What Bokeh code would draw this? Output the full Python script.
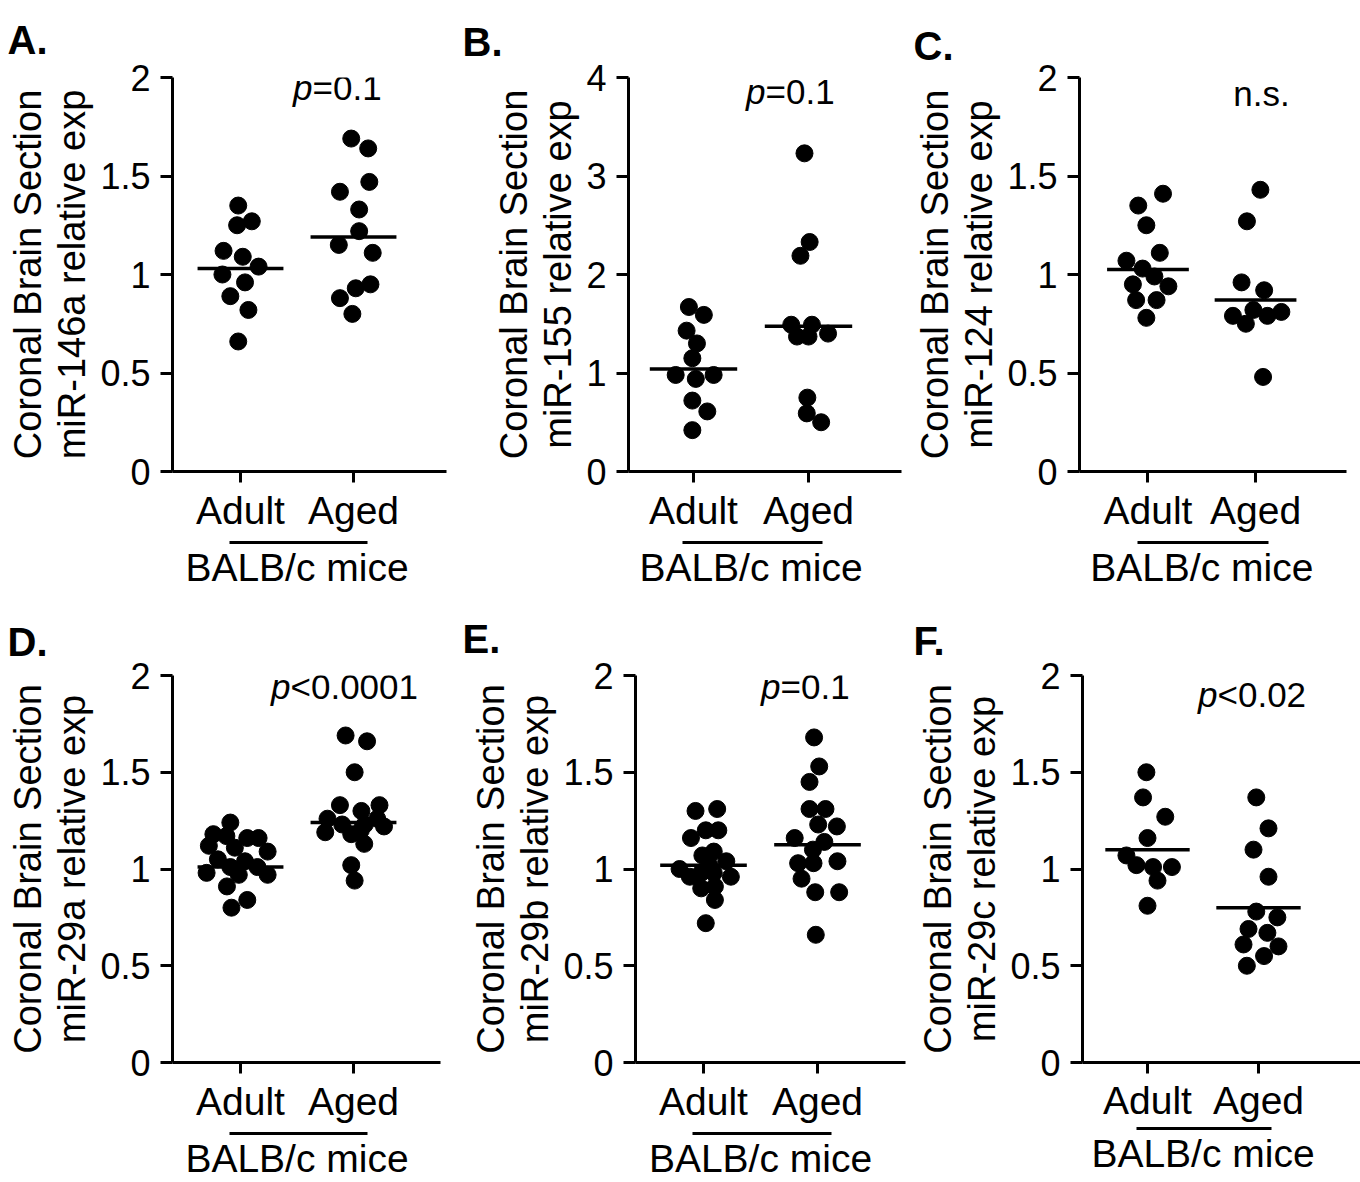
import numpy as np
from bokeh.plotting import figure
from bokeh.models import LinearAxis, FixedTicker, CustomJSTickFormatter, Label, Range1d, Title
from bokeh.layouts import column, row
from bokeh.embed import file_html
from bokeh.resources import INLINE

FONT = "Liberation Sans"

groups = ["Adult", "Aged"]
mouse_label = "BALB/c mice"
ylabel_top = "Coronal Brain Section"

# ---------------- data ----------------
# Panel A: miR-146a
A_adult = [1.35, 1.25, 1.27, 1.12, 1.09, 1.04, 1.00, 0.96, 0.89, 0.82, 0.66]
A_adult_dx = [-0.02, -0.03, 0.10, -0.15, 0.02, 0.16, -0.16, 0.04, -0.09, 0.07, -0.02]
A_aged = [1.69, 1.64, 1.47, 1.42, 1.33, 1.22, 1.15, 1.11, 0.95, 0.93, 0.88, 0.80]
A_aged_dx = [-0.02, 0.13, 0.14, -0.12, 0.05, 0.05, -0.13, 0.17, 0.15, 0.02, -0.12, -0.01]
A_means = [1.03, 1.19]

# Panel B: miR-155
B_adult = [1.67, 1.59, 1.43, 1.30, 1.15, 0.98, 0.94, 0.98, 0.72, 0.61, 0.42]
B_adult_dx = [-0.04, 0.09, -0.06, 0.03, -0.01, -0.155, 0.02, 0.175, -0.01, 0.12, -0.01]
B_aged = [3.23, 2.33, 2.19, 1.49, 1.49, 1.37, 1.37, 1.40, 0.75, 0.59, 0.50]
B_aged_dx = [-0.035, 0.01, -0.07, -0.15, 0.03, -0.10, 0.0, 0.17, -0.01, -0.015, 0.11]
B_means = [1.04, 1.475]

# Panel C: miR-124
C_adult = [1.35, 1.41, 1.25, 1.11, 1.07, 1.03, 0.99, 0.95, 0.94, 0.87, 0.87, 0.78]
C_adult_dx = [-0.09, 0.14, -0.015, 0.11, -0.20, -0.05, 0.06, -0.14, 0.19, -0.11, 0.08, -0.015]
C_aged = [1.43, 1.27, 0.96, 0.92, 0.79, 0.82, 0.79, 0.81, 0.75, 0.48]
C_aged_dx = [0.045, -0.08, -0.13, 0.08, -0.21, -0.02, 0.11, 0.24, -0.09, 0.07]
C_means = [1.025, 0.87]

# Panel D: miR-29a
D_adult = [1.24, 1.18, 1.17, 1.16, 1.16, 1.12, 1.11, 1.09, 1.05, 1.04, 0.98, 1.01,
           0.97, 1.01, 0.97, 0.91, 0.84, 0.80]
D_adult_dx = [-0.09, -0.24, -0.125, 0.06, 0.16, -0.28, -0.05, 0.24, -0.20, 0.04, -0.30, -0.09,
              -0.015, 0.15, 0.24, -0.12, 0.06, -0.08]
D_aged = [1.69, 1.66, 1.50, 1.33, 1.33, 1.30, 1.26, 1.26, 1.23, 1.19, 1.22, 1.23,
          1.18, 1.20, 1.13, 1.02, 0.94]
D_aged_dx = [-0.07, 0.12, 0.01, -0.12, 0.23, 0.07, -0.23, 0.21, -0.10, -0.25, 0.27, 0.10,
             -0.02, 0.065, 0.095, -0.02, 0.01]
D_means = [1.01, 1.24]

# Panel E: miR-29b
E_adult = [1.30, 1.31, 1.20, 1.20, 1.16, 1.07, 1.09, 1.04, 1.00, 0.96, 0.98, 0.98,
           0.96, 0.90, 0.91, 0.84, 0.72, 1.02]
E_adult_dx = [-0.07, 0.12, 0.02, 0.13, -0.11, -0.01, 0.09, 0.20, -0.21, -0.12, -0.02, 0.09,
              0.24, -0.02, 0.10, 0.10, 0.02, 0.05]
E_aged = [1.68, 1.53, 1.45, 1.31, 1.31, 1.23, 1.22, 1.16, 1.14, 1.10, 1.03, 1.03,
          1.04, 0.95, 0.88, 0.88, 0.66]
E_aged_dx = [-0.03, 0.015, -0.07, -0.07, 0.07, 0.006, 0.17, -0.20, 0.06, -0.04, -0.17, -0.035,
             0.175, -0.14, -0.02, 0.19, -0.015]
E_means = [1.02, 1.125]

# Panel F: miR-29c
F_adult = [1.50, 1.37, 1.27, 1.16, 1.07, 1.02, 1.01, 1.01, 0.94, 0.81]
F_adult_dx = [-0.01, -0.04, 0.16, 0.0, -0.19, -0.10, 0.05, 0.22, 0.09, 0.0]
F_aged = [1.37, 1.21, 1.10, 0.96, 0.78, 0.75, 0.69, 0.67, 0.61, 0.60, 0.55, 0.50]
F_aged_dx = [-0.02, 0.09, -0.045, 0.09, -0.02, 0.17, -0.09, 0.08, -0.135, 0.18, 0.05, -0.105]
F_means = [1.10, 0.80]

ticks_2 = [0, 0.5, 1, 1.5, 2]
ticks_4 = [0, 1, 2, 3, 4]

# layout geometry in page pixels: figure origin/size, frame box, group tick positions,
# text anchors, and gaps below the x axis (label standoff, spacer, caption standoff)
panels = [
    dict(letter="A.", ylabel="miR-146a relative exp", ymax=2, yticks=ticks_2,
         vals=(A_adult, A_aged), dx=(A_adult_dx, A_aged_dx), means=A_means, stat=("p", "=0.1"),
         geo=dict(ox=0, oy=0, w=458, h=600, L=172, R=446, T=77, B=473, t1=240, t2=353,
                  stat=(312, 103), letter=12, gaps=(6, 8, 3))),
    dict(letter="B.", ylabel="miR-155 relative exp", ymax=4, yticks=ticks_4,
         vals=(B_adult, B_aged), dx=(B_adult_dx, B_aged_dx), means=B_means, stat=("p", "=0.1"),
         geo=dict(ox=458, oy=0, w=452, h=600, L=628, R=901, T=73, B=477, t1=693, t2=808,
                  stat=(765, 103), letter=467, gaps=(6, 8, 3))),
    dict(letter="C.", ylabel="miR-124 relative exp", ymax=2, yticks=ticks_2,
         vals=(C_adult, C_aged), dx=(C_adult_dx, C_aged_dx), means=C_means, stat=("", "n.s."),
         geo=dict(ox=910, oy=0, w=450, h=600, L=1073, R=1346, T=65, B=471, t1=1143, t2=1253,
                  stat=(1259, 97), letter=912, gaps=(6, 8, 3))),
    dict(letter="D.", ylabel="miR-29a relative exp", ymax=2, yticks=ticks_2,
         vals=(D_adult, D_aged), dx=(D_adult_dx, D_aged_dx), means=D_means, stat=("p", "<0.0001"),
         geo=dict(ox=0, oy=600, w=458, h=582, L=172, R=440, T=670, B=1066, t1=240, t2=353,
                  stat=(290, 697), letter=12, gaps=(6, 8, 3))),
    dict(letter="E.", ylabel="miR-29b relative exp", ymax=2, yticks=ticks_2,
         vals=(E_adult, E_aged), dx=(E_adult_dx, E_aged_dx), means=E_means, stat=("p", "=0.1"),
         geo=dict(ox=458, oy=600, w=452, h=582, L=635, R=905, T=675, B=1066, t1=703, t2=817,
                  stat=(780, 702), letter=467, gaps=(6, 8, 3))),
    dict(letter="F.", ylabel="miR-29c relative exp", ymax=2, yticks=ticks_2,
         vals=(F_adult, F_aged), dx=(F_adult_dx, F_aged_dx), means=F_means, stat=("p", "<0.02"),
         geo=dict(ox=910, oy=600, w=450, h=582, L=1082, R=1360, T=672, B=1068, t1=1147, t2=1258,
                  stat=(1217, 707), letter=918, gaps=(5, 4, 3))),
]

MEAN_HALF = 0.38
LABEL_BASELINE_FIX = 16   # Label anchor sits this far above the drawn baseline
TITLE_EXTRA = 48          # title panel height beyond its standoff


def style_axis(ax):
    ax.axis_line_width = 3
    ax.axis_line_color = "black"
    ax.major_tick_line_width = 3
    ax.major_tick_line_color = "black"
    ax.major_tick_in = 0
    ax.minor_tick_in = 0
    ax.minor_tick_out = 0
    ax.major_label_text_font = FONT
    ax.major_label_text_color = "black"
    ax.axis_label_text_font = FONT
    ax.axis_label_text_font_style = "normal"
    ax.axis_label_text_color = "black"


def make_panel(pn):
    g = pn["geo"]
    L, R, T, B = g["L"], g["R"], g["T"], g["B"]
    sp = g["t2"] - g["t1"]
    x0 = 1 - (g["t1"] - L) / sp
    x1 = 2 + (R - g["t2"]) / sp
    y0, y1 = 0, pn["ymax"]

    def X(px):
        return x0 + (px - L) * (x1 - x0) / (R - L)

    def Y(py):
        return y0 + (B - py) * (y1 - y0) / (B - T)

    top_border = T - g["oy"]
    p = figure(width=g["w"], height=g["h"],
               x_range=Range1d(x0, x1), y_range=Range1d(y0, y1),
               output_backend="svg", toolbar_location=None,
               x_axis_location=None, y_axis_location=None,
               min_border_left=L - g["ox"], min_border_right=g["ox"] + g["w"] - R,
               min_border_top=top_border, min_border_bottom=g["oy"] + g["h"] - B)
    p.outline_line_color = None
    p.background_fill_color = "white"
    p.border_fill_color = "white"
    for gr in p.grid:
        gr.visible = False

    # panel letter as a left-aligned title, as high as the top border allows
    p.title = Title(text=pn["letter"], align="left", vertical_align="middle",
                    offset=g["letter"] - L - 5,
                    text_font=FONT, text_font_size="40px", text_font_style="bold",
                    text_color="black", standoff=max(0, top_border - TITLE_EXTRA))

    # y axes (inner with ticks, outer carrying the first label line)
    ya = LinearAxis(ticker=FixedTicker(ticks=pn["yticks"]),
                    formatter=CustomJSTickFormatter(code="return String(tick)"),
                    axis_label=pn["ylabel"])
    ya2 = LinearAxis(ticker=FixedTicker(ticks=[]), axis_label=ylabel_top)
    for ax in (ya, ya2):
        style_axis(ax)
        ax.axis_label_text_font_size = "38px"
    ya.major_tick_out = 12
    ya.major_label_standoff = 10
    ya.major_label_text_font_size = "36px"
    ya.axis_label_standoff = 4
    ya2.axis_line_color = None
    ya2.major_tick_out = 0
    ya2.major_label_standoff = 0
    ya2.major_label_text_font_size = "0px"
    ya2.axis_label_standoff = 0
    p.add_layout(ya, "left")
    p.add_layout(ya2, "left")

    # x axes: group ticks, an invisible spacer, then a short bar with the strain caption
    so1, gap, so2 = g["gaps"]
    xa = LinearAxis(ticker=FixedTicker(ticks=[1, 2]),
                    major_label_overrides={i + 1: gname for i, gname in enumerate(groups)})
    xsp = LinearAxis(ticker=FixedTicker(ticks=[1.5]), major_label_overrides={1.5: ""})
    xa2 = LinearAxis(ticker=FixedTicker(ticks=[1.5]), bounds=(0.9, 2.12),
                     major_label_overrides={1.5: mouse_label})
    for ax in (xa, xsp, xa2):
        style_axis(ax)
        ax.major_label_text_font_size = "39px"
    xa.major_tick_out = 11
    xa.major_label_standoff = so1
    xsp.axis_line_color = None
    xsp.major_tick_line_color = None
    xsp.major_tick_out = gap
    xsp.major_label_standoff = 0
    xsp.major_label_text_font_size = "0px"
    xa2.major_tick_out = 0
    xa2.major_tick_line_color = None
    xa2.major_label_standoff = so2
    p.add_layout(xa, "below")
    p.add_layout(xsp, "below")
    p.add_layout(xa2, "below")

    # points
    for gi, (vals, dxs) in enumerate(zip(pn["vals"], pn["dx"])):
        xs = [gi + 1 + d for d in dxs]
        p.scatter(xs, vals, size=17, color="black", line_color="black")

    # mean lines
    centers = np.arange(1, len(groups) + 1)
    p.segment(x0=centers - MEAN_HALF, x1=centers + MEAN_HALF,
              y0=pn["means"], y1=pn["means"], line_width=3.5, line_color="black")

    # statistics text
    sx, sy = g["stat"]
    yy = Y(sy - LABEL_BASELINE_FIX)
    it, rest = pn["stat"]
    if it:
        p.add_layout(Label(x=X(sx), y=yy, text=it, text_font=FONT, text_font_size="35px",
                           text_font_style="italic", text_align="right",
                           text_baseline="alphabetic", text_color="black"))
        p.add_layout(Label(x=X(sx), y=yy, text=rest, text_font=FONT, text_font_size="35px",
                           text_align="left", text_baseline="alphabetic", text_color="black"))
    else:
        p.add_layout(Label(x=X(sx), y=yy, text=rest, text_font=FONT, text_font_size="35px",
                           text_align="center", text_baseline="alphabetic", text_color="black"))
    return p


figs = [make_panel(pn) for pn in panels]
layout = column(row(*figs[:3]), row(*figs[3:]))

with open("out.html", "w") as f:
    f.write(file_html(layout, INLINE))
